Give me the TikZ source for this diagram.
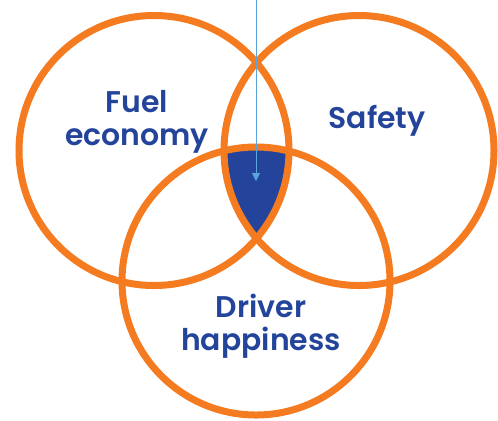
\documentclass[tikz,border=0pt]{standalone}
\usepackage{fontspec}
\setmainfont{Poppins}[BoldFont={Poppins SemiBold}]
\usetikzlibrary{arrows.meta}
\definecolor{vorange}{HTML}{F47B20}
\definecolor{vblue}{HTML}{23449A}
\definecolor{varrow}{HTML}{5AA5DC}
\tikzset{
  ring/.style={circle, draw=vorange, line width=7bp, minimum size=270bp, inner sep=0pt, outer sep=0pt},
  label/.style={text=vblue, font=\fontsize{30}{33}\selectfont\bfseries, align=center, inner sep=0pt, anchor=base},
  pointer/.style={draw=varrow, line width=1bp, -{Triangle[length=8bp,width=8bp]}}
}
\begin{document}
\begin{tikzpicture}[x=1bp,y=-1bp]
\useasboundingbox (0,0) rectangle (498,420);
\fill[white] (0,0) rectangle (498,420);
\coordinate (cL) at (154,150.5);
\coordinate (cR) at (359,150.5);
\coordinate (cB) at (256,281);
\begin{scope}
  \clip (cL) circle (135bp);
  \clip (cR) circle (135bp);
  \fill[vblue] (cB) circle (134bp);
\end{scope}
\node[ring] (fuel) at (cL) {};
\node[ring] (safety) at (cR) {};
\node[ring, minimum size=268bp] (driver) at (cB) {};
\node[label] (tfuel) at (137,145) {Fuel\\economy};
\node[label] (tsafety) at (377,128) {Safety};
\node[label] (tdriver) at (261,350) {Driver\\happiness};
\coordinate (atop) at (256,0);
\coordinate (atip) at (256,181);
\draw[pointer] (atop) -- (atip);
\end{tikzpicture}
\end{document}
